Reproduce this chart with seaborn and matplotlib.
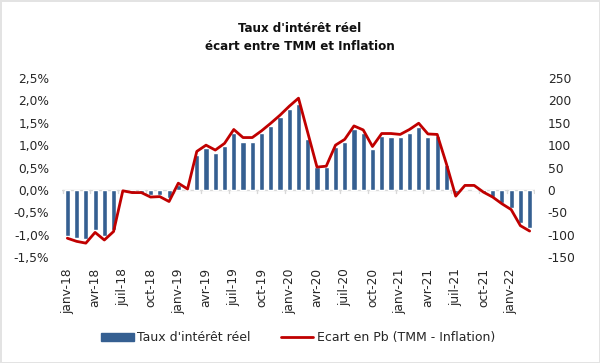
import numpy as np
import pandas as pd
import matplotlib
matplotlib.use("Agg")
import matplotlib.pyplot as plt
from matplotlib.lines import Line2D
from matplotlib.patches import Patch
import seaborn as sns

# monthly data, janv-18 .. mars-22
months = pd.date_range("2018-01-01", "2022-03-01", freq="MS")
taux = [-1.04, -1.08, -1.10, -0.89, -1.04, -0.89, -0.02, -0.07, -0.07, -0.12,
        -0.12, -0.18, 0.12, 0.00, 0.77, 0.94, 0.82, 0.97, 1.28, 1.08,
        1.08, 1.27, 1.43, 1.64, 1.81, 1.93, 1.13, 0.51, 0.51, 0.95,
        1.06, 1.35, 1.28, 0.91, 1.21, 1.19, 1.18, 1.28, 1.41, 1.19,
        1.21, 0.56, -0.07, 0.03, 0.03, -0.06, -0.16, -0.30, -0.41, -0.75,
        -0.86]
ecart = [-108, -115, -119, -95, -112, -93, -2, -6, -6, -16,
         -15, -26, 15, 2, 86, 100, 89, 104, 135, 117,
         117, 132, 149, 167, 187, 205, 128, 51, 53, 100,
         113, 143, 134, 97, 126, 126, 124, 135, 149, 125,
         124, 58, -14, 10, 10, -5, -16, -31, -44, -80,
         -92]
tick_labels = ["janv-18", "avr-18", "juil-18", "oct-18",
               "janv-19", "avr-19", "juil-19", "oct-19",
               "janv-20", "avr-20", "juil-20", "oct-20",
               "janv-21", "avr-21", "juil-21", "oct-21", "janv-22"]
left_ticks = [2.5, 2.0, 1.5, 1.0, 0.5, 0.0, -0.5, -1.0, -1.5]
right_ticks = [250, 200, 150, 100, 50, 0, -50, -100, -150]

df = pd.DataFrame({"mois": months, "taux": taux, "ecart": ecart})
df["pos"] = np.arange(len(df))

BLUE = "#355f91"
RED = "#c00000"
TXT = "#262626"

sns.set_style("white")
plt.rcParams["font.family"] = ["DejaVu Sans"]

fig = plt.figure(figsize=(6, 3.63), dpi=100)
fig.patch.set_edgecolor("#e3e3e3")
fig.patch.set_linewidth(2)
ax = fig.add_axes([0.103, 0.292, 0.789, 0.493])

sns.barplot(data=df, x="pos", y="taux", color=BLUE, width=0.55,
            saturation=1, ax=ax, native_scale=True)
ax.set_xlim(-0.6, len(df) - 0.4)
ax.set_ylim(-1.5, 2.5)
ax.set_yticks(left_ticks)
ax.set_yticklabels([("%.1f%%" % v).replace(".", ",") for v in left_ticks],
                   fontsize=8.8, color=TXT)
ax.axhline(0, color="#d9d9d9", lw=1, zorder=0)
for s in ax.spines.values():
    s.set_visible(False)
ax.tick_params(axis="y", length=0, pad=9)

ax.set_xticks(df["pos"][::3])
ax.set_xticklabels(tick_labels, rotation=90, fontsize=8.8, color=TXT,
                   va="top", ha="center")
ax.tick_params(axis="x", length=0, pad=8)
ax.set_xlabel("")
ax.set_ylabel("")

# small tick marks on the zero line
for p in np.arange(-0.5, len(df), 3):
    ax.plot([p, p], [0, -0.06], color="#d9d9d9", lw=1, zorder=0)

ax2 = ax.twinx()
sns.lineplot(data=df, x="pos", y="ecart", color=RED, lw=2, ax=ax2)
ax2.set_ylim(-150, 250)
ax2.set_yticks(right_ticks)
ax2.set_yticklabels([str(v) for v in right_ticks], fontsize=8.8, color=TXT)
ax2.tick_params(axis="y", length=0, pad=9)
for s in ax2.spines.values():
    s.set_visible(False)
ax2.set_xlabel("")
ax2.set_ylabel("")

for y, t in [(0.922, "Taux d'intérêt réel"), (0.871, "écart entre TMM et Inflation")]:
    fig.text(0.5, y, t, ha="center", va="center", fontsize=9.5,
             fontweight="bold", fontstretch="condensed", color="#111111",
             family=["Liberation Sans Narrow", "DejaVu Sans"])

handles = [Patch(color=BLUE, label="Taux d'intérêt réel"),
           Line2D([], [], color=RED, lw=2, label="Ecart en Pb (TMM - Inflation)")]
leg = fig.legend(handles=handles, loc="center", bbox_to_anchor=(0.497, 0.069),
                 ncol=2, frameon=False, fontsize=9, handlelength=2.6,
                 handleheight=0.6, columnspacing=2.4, handletextpad=0.3)
for t in leg.get_texts():
    t.set_color(TXT)

fig.savefig("out.png", dpi=100, edgecolor=fig.get_edgecolor())
